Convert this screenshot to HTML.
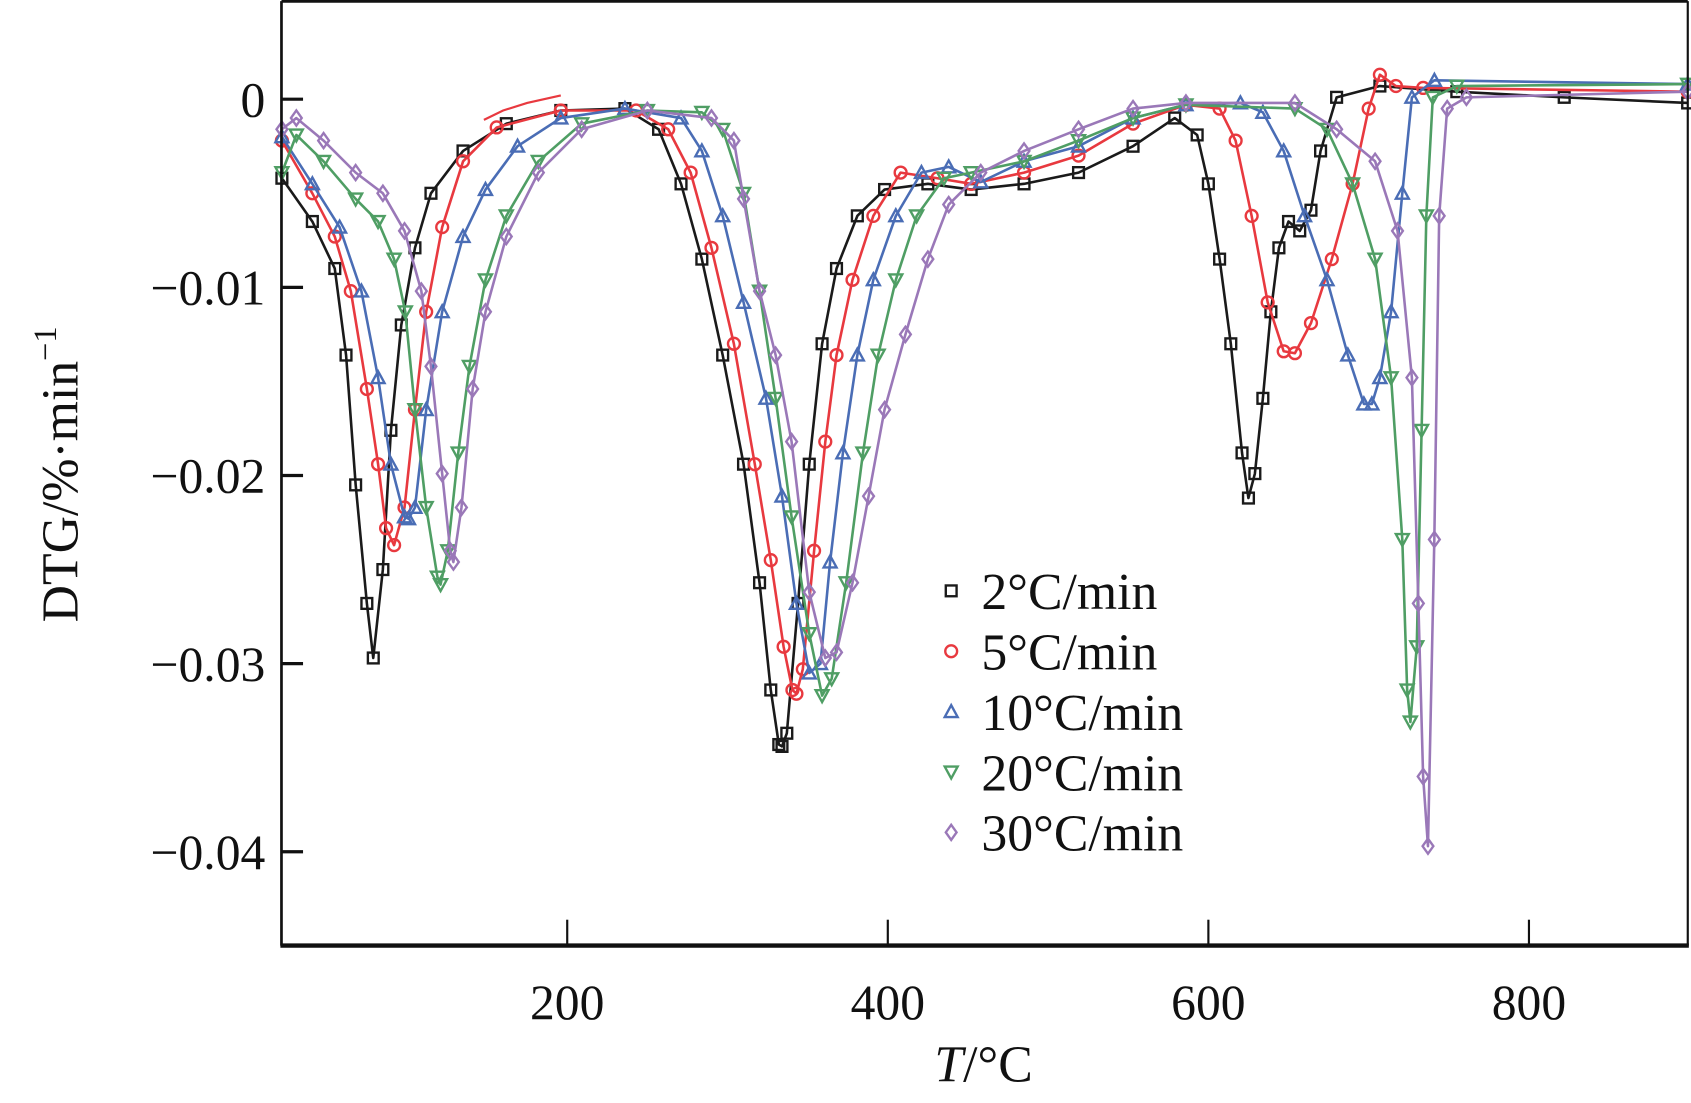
<!DOCTYPE html>
<html><head><meta charset="utf-8">
<style>
html,body{margin:0;padding:0;background:#fff;}
svg{display:block;}
text{font-family:"Liberation Serif","DejaVu Serif",serif;fill:#111;}
</style></head>
<body>
<svg id="chart" width="1691" height="1103" viewBox="0 0 1568 1023" preserveAspectRatio="none" xmlns="http://www.w3.org/2000/svg">
<g id="plot"></g>
<g id="axes"></g>
<g id="legend"></g>
</svg>
<script>
// ---- data (T in °C, DTG in %/min) ----
const xTicks = [200, 400, 600, 800];
const yTicks = [0, -0.01, -0.02, -0.03, -0.04];
const yTickLabels = ["0", "\u22120.01", "\u22120.02", "\u22120.03", "\u22120.04"];
const seriesNames = ["2\u00B0C/min", "5\u00B0C/min", "10\u00B0C/min", "20\u00B0C/min", "30\u00B0C/min"];

const T2 = [22,41,55,62,68,75,79,85,90,96.5,105,115,135,162,196,236,257,271,284,297,310,320,327,332,334,337,344,351,359,368,381,398,425,452,485,519,553,579,593,600,607,614,621,625,629,634,639,644,650,657,664,670,680,707,755,822,899];
const V2 = [-0.0042,-0.0065,-0.009,-0.0136,-0.0205,-0.0268,-0.0297,-0.025,-0.0176,-0.012,-0.0079,-0.005,-0.00275,-0.0013,-0.0006,-0.0005,-0.0016,-0.0045,-0.0085,-0.0136,-0.0194,-0.0257,-0.0314,-0.0343,-0.0344,-0.0337,-0.0268,-0.0194,-0.013,-0.009,-0.0062,-0.0048,-0.0045,-0.0048,-0.0045,-0.0039,-0.0025,-0.001,-0.0019,-0.0045,-0.0085,-0.013,-0.0188,-0.0212,-0.0199,-0.0159,-0.0113,-0.0079,-0.0065,-0.007,-0.0059,-0.00275,0.0001,0.0007,0.0004,0.0001,-0.0002];

const T5 = [22,41,55,65,75,82,87,92,98.5,105,112,122,135,156,196,243,263,277,290,304,317,327,335,340.5,343,347,354,361,368,378,391,408,431,452,485,519,553,586,607,617,627,637,647,654,664,677,690,700,707,717,734,899];
const V5 = [-0.0022,-0.005,-0.0073,-0.0102,-0.0154,-0.0194,-0.0228,-0.0237,-0.0217,-0.0165,-0.0113,-0.0068,-0.0033,-0.0015,-0.0006,-0.0006,-0.0016,-0.0039,-0.0079,-0.013,-0.0194,-0.0245,-0.0291,-0.0314,-0.0316,-0.0303,-0.024,-0.0182,-0.0136,-0.0096,-0.0062,-0.0039,-0.0042,-0.0045,-0.0039,-0.003,-0.0013,-0.0003,-0.0005,-0.0022,-0.0062,-0.0108,-0.0134,-0.0135,-0.0119,-0.0085,-0.0045,-0.0005,0.0013,0.0007,0.0006,0.0004];
const T5tail = [148,160,175,196];
const V5tail = [-0.0011,-0.0006,-0.0002,0.0002];

const T10 = [22,41,58,71.6,82,90,98.5,101,105,112,122,135,149,169,196,236,271,284,297,310,324,334,343,351,358,364,372,381,391,405,421,438,458,485,519,553,586,620,634,647,660,674,687,697,702,707,714,721,727,741,899];
const V10 = [-0.002,-0.0045,-0.0068,-0.0102,-0.0148,-0.0194,-0.0222,-0.0223,-0.0217,-0.0165,-0.0113,-0.0073,-0.0048,-0.0025,-0.001,-0.0005,-0.001,-0.00275,-0.0062,-0.0108,-0.0159,-0.0211,-0.0268,-0.0305,-0.03,-0.0246,-0.0188,-0.0136,-0.0096,-0.0062,-0.0039,-0.0036,-0.0044,-0.0033,-0.0025,-0.001,-0.0003,-0.0002,-0.0007,-0.00275,-0.0062,-0.0096,-0.0136,-0.0162,-0.0162,-0.0148,-0.0113,-0.005,0.0001,0.001,0.0008];

const T20 = [22,31,48,68,82,92,99,105,112,119,121,125.5,132,139,149,162,182,209,250,284,297,310,320,330,340,351,359,365,374,384.5,394,405,418,435,452,485,519,553,586,654,674,690,704,714,721,724,726,730,733,736,740,755,899];
const V20 = [-0.0039,-0.0019,-0.0033,-0.0053,-0.0065,-0.0085,-0.0113,-0.0165,-0.0217,-0.0254,-0.0258,-0.024,-0.0188,-0.0142,-0.0096,-0.0062,-0.0033,-0.0013,-0.0006,-0.0007,-0.0016,-0.005,-0.0102,-0.0159,-0.0222,-0.0284,-0.0317,-0.0308,-0.0257,-0.0188,-0.0136,-0.0096,-0.0062,-0.0042,-0.0039,-0.0033,-0.0022,-0.001,-0.0003,-0.0005,-0.0016,-0.0045,-0.0085,-0.0148,-0.0234,-0.0314,-0.0331,-0.0291,-0.0176,-0.0062,0.0001,0.0007,0.0008];

const T30 = [22,31,48,68,85,98.5,109,115,122,127,129,134,141,149,162,182,209,250,290,304,310,320,330,340,351,361,368,378,388,398,411,425,438,458,485,519,553,586,654,680,704,718,727,731,734,737,741,744,749,761,899];
const V30 = [-0.0016,-0.001,-0.0022,-0.0039,-0.005,-0.007,-0.0102,-0.0142,-0.0199,-0.024,-0.0246,-0.0217,-0.0154,-0.0113,-0.0073,-0.0039,-0.0016,-0.0006,-0.001,-0.0022,-0.0053,-0.0102,-0.0136,-0.0182,-0.0262,-0.0297,-0.0294,-0.0257,-0.0211,-0.0165,-0.0125,-0.0085,-0.0056,-0.0039,-0.00275,-0.0016,-0.0005,-0.0002,-0.0002,-0.0016,-0.0033,-0.007,-0.0148,-0.0268,-0.036,-0.0397,-0.0234,-0.0062,-0.0005,0.0001,0.0004];

// ---- layout (viewBox units) ----
const L = 261, R = 1565, TOP = 1, B = 877;
function sx(t){ return 228.7 + t * 1.4863; }
function sy(v){ return 92 - v * 17450; }

const NS = "http://www.w3.org/2000/svg";
function mk(tag, attrs, parent){
  const e = document.createElementNS(NS, tag);
  for (const k in attrs) e.setAttribute(k, attrs[k]);
  parent.appendChild(e);
  return e;
}
const plot = document.getElementById('plot');
const axes = document.getElementById('axes');
const legend = document.getElementById('legend');

const colors = ["#1a1a1a", "#e8393f", "#4a6db5", "#4f9e64", "#9a78b8"];
const allT = [T2, T5, T10, T20, T30];
const allV = [V2, V5, V10, V20, V30];
const shapes = ["square", "circle", "up", "down", "diamond"];

function marker(shape, x, y, color, parent){
  let m;
  const s = 5;
  if (shape === "square") m = mk('rect', {x:x-s, y:y-s, width:2*s, height:2*s}, parent);
  else if (shape === "circle") m = mk('circle', {cx:x, cy:y, r:s+0.5}, parent);
  else if (shape === "up") m = mk('polygon', {points:`${x},${y-s-1} ${x-s-1},${y+s} ${x+s+1},${y+s}`}, parent);
  else if (shape === "down") m = mk('polygon', {points:`${x},${y+s+1} ${x-s-1},${y-s} ${x+s+1},${y-s}`}, parent);
  else m = mk('polygon', {points:`${x},${y-s-2} ${x+s},${y} ${x},${y+s+2} ${x-s},${y}`}, parent);
  m.setAttribute('fill', 'none');
  m.setAttribute('stroke', color);
  m.setAttribute('stroke-width', '2.2');
  return m;
}

allT.forEach((Ts, i) => {
  const g = mk('g', {}, plot);
  
  
  const pts = Ts.map((t, j) => sx(t).toFixed(1) + ',' + sy(allV[i][j]).toFixed(1)).join(' ');
  const line = mk('polyline', {points:pts, fill:'none', stroke:colors[i], 'stroke-width':'2.4', 'stroke-linejoin':'round'}, g);
  
  
  Ts.forEach((t, j) => {
    const m = marker(shapes[i], sx(t), sy(allV[i][j]), colors[i], g);
    
    
  });
});
// red thin tail segment
{
  const pts = T5tail.map((t, j) => sx(t).toFixed(1) + ',' + sy(V5tail[j]).toFixed(1)).join(' ');
  const tail = mk('polyline', {points:pts, fill:'none', stroke:colors[1], 'stroke-width':'2'}, plot);
  
  
}

// ---- frame ----
const frame = mk('g', {}, axes);


mk('line', {x1:L, y1:TOP, x2:R, y2:TOP, stroke:'#111', 'stroke-width':3}, frame);
mk('line', {x1:L, y1:TOP, x2:L, y2:B, stroke:'#111', 'stroke-width':2.5}, frame);
mk('line', {x1:R, y1:TOP, x2:R, y2:B, stroke:'#111', 'stroke-width':2}, frame);
mk('line', {x1:L-1, y1:B, x2:R+1, y2:B, stroke:'#111', 'stroke-width':4}, frame);

// ---- x ticks ----
xTicks.forEach(t => {
  const tk = mk('line', {x1:sx(t), y1:B, x2:sx(t), y2:B-24, stroke:'#111', 'stroke-width':2}, axes);
  
  
  const lb = mk('text', {x:sx(t), y:945, 'font-size':46, 'text-anchor':'middle'}, axes);
  lb.textContent = String(t);
  
  
});
// ---- y ticks ----
yTicks.forEach((v, i) => {
  const tk = mk('line', {x1:L, y1:sy(v), x2:L+20, y2:sy(v), stroke:'#111', 'stroke-width':3}, axes);
  
  
  const lb = mk('text', {x:246, y:sy(v)+16, 'font-size':46, 'text-anchor':'end'}, axes);
  lb.textContent = yTickLabels[i];
  
  
});

// ---- axis titles ----
const xt = mk('text', {x:912, y:1003, 'font-size':48, 'text-anchor':'middle'}, axes);


xt.innerHTML = '<tspan font-style="italic">T</tspan>/\u00B0C';
const yt = mk('text', {x:0, y:0, 'font-size':48, 'text-anchor':'middle', transform:'translate(72,440) rotate(-90)'}, axes);


yt.innerHTML = 'DTG/%\u00B7min<tspan font-size="30" dy="-20">\u22121</tspan>';

// ---- legend ----
seriesNames.forEach((n, i) => {
  const cy = 548 + i * 56;
  const g = mk('g', {}, legend);
  
  
  marker(shapes[i], 882, cy, colors[i], g);
  const t = mk('text', {x:910, y:cy+17, 'font-size':48}, g);
  t.textContent = n;
});
</script>
</body></html>
